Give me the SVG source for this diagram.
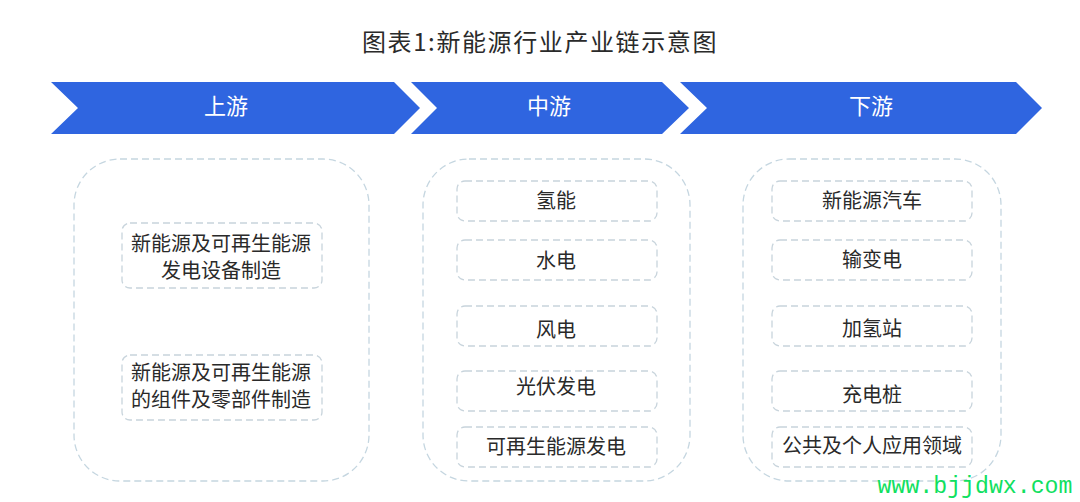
<svg xmlns="http://www.w3.org/2000/svg" width="1080" height="502" viewBox="0 0 1080 502">
<style>
text{font-family:"Noto Sans CJK SC","Liberation Sans",sans-serif;text-anchor:middle;fill:#2a2a2a;font-size:20px}
.b{fill:#2f65e0}
.h{fill:#fff;font-size:22px}
.c{fill:#fff;stroke:#c5d6e0;stroke-width:1.3;stroke-dasharray:7 4}
.n{fill:#fff;stroke:#c8d4dc;stroke-width:1.3;stroke-dasharray:7 4}
</style>
<rect width="1080" height="502" fill="#fff"/>
<text x="540" y="51" style="font-size:24px;letter-spacing:1.6px">图表1:新能源行业产业链示意图</text>
<g id="band-up"><polygon class="b" points="51,82 394,82 420,108 394,134 51,134 78,108"/><text class="h" x="226" y="114">上游</text></g>
<g id="band-mid"><polygon class="b" points="411,82 662,82 689,108 662,134 411,134 437,108"/><text class="h" x="549" y="114">中游</text></g>
<g id="band-down"><polygon class="b" points="680,82 1016,82 1042,108 1016,134 680,134 707,108"/><text class="h" x="871" y="114">下游</text></g>
<g id="panel-up"><rect class="c" x="74" y="159" width="295" height="322" rx="46"/></g>
<g id="panel-mid"><rect class="c" x="423" y="159" width="267" height="322" rx="46"/></g>
<g id="panel-down"><rect class="c" x="743" y="159" width="258" height="322" rx="46"/></g>
<g id="u1"><rect class="n" x="122" y="223" width="200" height="65" rx="8"/><text x="221" y="251">新能源及可再生能源</text><text x="221" y="278">发电设备制造</text></g>
<g id="u2"><rect class="n" x="122" y="355" width="200" height="65" rx="8"/><text x="221" y="380">新能源及可再生能源</text><text x="221" y="407">的组件及零部件制造</text></g>
<g id="m1"><rect class="n" x="457" y="181" width="200" height="40" rx="8"/><text x="556" y="208">氢能</text></g>
<g id="m2"><rect class="n" x="457" y="240" width="200" height="40" rx="8"/><text x="556" y="268">水电</text></g>
<g id="m3"><rect class="n" x="457" y="306" width="200" height="40" rx="8"/><text x="556" y="337">风电</text></g>
<g id="m4"><rect class="n" x="457" y="371" width="200" height="40" rx="8"/><text x="556" y="394">光伏发电</text></g>
<g id="m5"><rect class="n" x="457" y="427" width="200" height="40" rx="8"/><text x="556" y="454">可再生能源发电</text></g>
<g id="d1"><rect class="n" x="772" y="181" width="200" height="40" rx="8"/><text x="872" y="208">新能源汽车</text></g>
<g id="d2"><rect class="n" x="772" y="240" width="200" height="40" rx="8"/><text x="872" y="267">输变电</text></g>
<g id="d3"><rect class="n" x="772" y="306" width="200" height="40" rx="8"/><text x="872" y="336">加氢站</text></g>
<g id="d4"><rect class="n" x="772" y="371" width="200" height="40" rx="8"/><text x="872" y="402">充电桩</text></g>
<g id="d5"><rect class="n" x="772" y="427" width="200" height="40" rx="8"/><text x="872" y="453">公共及个人应用领域</text></g>
<g id="connectors"/>
<text x="975" y="493" style="font-family:'Liberation Mono',monospace;font-size:23.2px;fill:#10e060">www.bjjdwx.com</text>
</svg>
